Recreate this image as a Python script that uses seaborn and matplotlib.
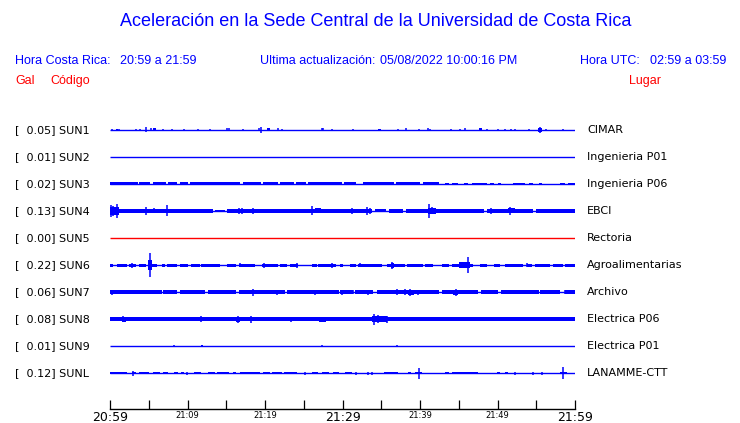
import numpy as np
import pandas as pd
import matplotlib
matplotlib.use('Agg')
import matplotlib.pyplot as plt
import seaborn as sns

sns.set_style('white')
plt.rcParams['font.family'] = ['DejaVu Sans']
plt.rcParams['text.color'] = 'black'
plt.rcParams['xtick.color'] = 'black'

BLUE = '#0000ff'
RED = '#ff0000'
HEAD_FONT = ['Liberation Sans', 'DejaVu Sans']

STATIONS = ['SUN1', 'SUN2', 'SUN3', 'SUN4', 'SUN5', 'SUN6', 'SUN7', 'SUN8', 'SUN9', 'SUNL']
PEAKS = ['0.05', '0.01', '0.02', '0.13', '0.00', '0.22', '0.06', '0.08', '0.01', '0.12']
PLACES = ['CIMAR', 'Ingenieria P01', 'Ingenieria P06', 'EBCI', 'Rectoria',
          'Agroalimentarias', 'Archivo', 'Electrica P06', 'Electrica P01', 'LANAMME-CTT']
TRACE_COLORS = [BLUE, BLUE, BLUE, BLUE, RED, BLUE, BLUE, BLUE, BLUE, BLUE]

TICK_MIN = [0, 10, 20, 30, 40, 50, 60]
TICK_LABELS = ['20:59', '21:09', '21:19', '21:29', '21:39', '21:49', '21:59']
BIG_TICKS = ['20:59', '21:29', '21:59']

# envelope pieces: (start min, end min, half amplitude)
SUN1_BANDS = [(0.8, 1.0, 1.3), (5.5, 5.9, 1.5), (20.2, 20.6, 1.5), (34.6, 35.0, 0.8),
              (47.6, 48.0, 1.5), (55.2, 55.8, 2.0)]
SUN1_SPIKES = [(0.2, 1), (1.2, 1.3), (3.4, 1), (3.9, 1), (4.7, 2.5), (5.25, 1.5), (6.9, 1.3),
               (8.0, 1.3), (9.6, 1), (11.3, 1), (12.95, 1), (15.05, 1.5), (15.3, 1.5), (17.1, 1.3),
               (19.2, 1.5), (19.5, 3), (21.7, 1.5), (22.2, 1.3), (27.3, 1.5), (27.5, 1.5),
               (28.6, 1), (31.3, 1), (37.1, 1.3), (38.2, 1.5), (39.9, 1), (41.0, 1.5), (41.3, 1.3),
               (44.0, 1.3), (45.2, 1.3), (45.85, 1.5), (48.6, 1.3), (50.1, 1), (51.0, 1.3),
               (51.7, 1.3), (52.3, 1.3), (54.0, 1), (55.5, 3.3), (56.3, 1.3), (58.5, 1.3)]

SUN2_BANDS = []
SUN2_SPIKES = []

SUN3_BANDS = [(0.0, 3.6, 1.5), (3.7, 5.2, 1.5), (5.5, 7.2, 1.5), (7.5, 8.7, 1.5), (9.0, 10.0, 1.5),
              (10.3, 16.8, 1.5), (17.1, 19.5, 1.5), (19.7, 21.7, 1.5), (21.9, 23.7, 1.5),
              (24.0, 25.3, 1.5), (25.6, 30.0, 1.5), (30.2, 31.8, 1.5), (32.6, 36.6, 1.5),
              (36.9, 40.0, 1.5), (40.4, 42.4, 1.5), (43.2, 43.7, 1.2), (44.1, 44.9, 1.2),
              (45.7, 46.2, 1.2), (46.7, 48.6, 1.2), (49.0, 49.5, 1.2), (50.1, 50.5, 1.2),
              (52.0, 53.5, 1.2), (54.0, 54.6, 1.2), (55.3, 55.7, 1.2), (58.1, 58.7, 1.2),
              (59.1, 60.0, 1.2)]
SUN3_SPIKES = []

SUN4_BANDS = [(0.0, 13.3, 1.7), (13.6, 14.9, 1.2), (15.1, 33.8, 1.7), (34.2, 35.6, 1.5),
              (36.0, 37.8, 1.7), (38.2, 48.3, 1.7), (48.6, 54.6, 1.6), (55.0, 60.0, 1.6),
              (0.0, 1.2, 4.0), (41.0, 42.0, 3.0), (51.4, 52.2, 2.5), (26.5, 27.2, 2.5)]
SUN4_SPIKES = [(0.1, 6), (0.4, 5), (0.9, 7), (4.7, 4), (5.7, 2.5), (7.4, 5.5), (9.5, 2), (15.3, 2),
               (16.6, 3), (17.0, 3), (18.4, 3), (20.0, 2), (21.7, 2), (23.4, 2), (26.1, 4.5),
               (31.2, 3), (33.1, 4), (33.5, 3), (39.6, 2), (41.1, 7), (41.6, 3.5), (44.5, 2),
               (49.1, 3), (51.6, 4), (53.5, 2), (55.3, 2), (59.4, 2)]

SUN5_BANDS = []
SUN5_SPIKES = []

SUN6_BANDS = [(0.0, 0.4, 1.5), (0.9, 2.2, 1.5), (2.4, 3.4, 1.5), (3.7, 4.7, 1.5), (5.4, 6.0, 1.5),
              (6.7, 7.1, 1.5), (7.4, 8.6, 1.5), (9.0, 10.1, 1.5), (10.5, 11.6, 1.5),
              (11.8, 14.2, 1.5), (15.1, 16.3, 1.5), (16.6, 18.7, 1.5), (19.6, 21.7, 1.5),
              (21.9, 22.8, 1.5), (23.2, 24.3, 1.5), (26.0, 26.7, 1.5), (26.9, 29.2, 1.5),
              (29.7, 30.1, 1.5), (31.0, 31.8, 1.5), (32.0, 35.1, 1.5), (35.7, 38.1, 1.5),
              (38.3, 40.4, 1.5), (40.6, 41.7, 1.5), (42.8, 43.7, 1.5), (44.1, 45.6, 1.5),
              (45.8, 46.9, 1.5), (47.7, 48.6, 1.5), (49.5, 50.3, 1.5), (51.0, 53.3, 1.5),
              (53.8, 54.4, 1.5), (54.8, 56.8, 1.5), (57.2, 58.5, 1.5), (58.7, 60.0, 1.5),
              (4.9, 5.4, 5.0), (45.0, 46.5, 2.8), (36.2, 36.6, 2.5)]
SUN6_SPIKES = [(5.1, 11.7), (2.8, 2.5), (16.8, 2), (19.9, 2.5), (24.1, 2.5), (28.6, 2.5),
               (32.3, 2), (36.4, 3.5), (46.2, 8), (53.8, 2), (0.2, 1.5)]

SUN7_BANDS = [(0.0, 6.7, 1.7), (6.9, 8.6, 1.7), (9.0, 12.3, 1.7), (12.7, 16.3, 1.7),
              (16.6, 22.6, 1.7), (22.8, 29.5, 1.7), (29.7, 31.4, 1.7), (31.6, 34.0, 1.7),
              (34.4, 42.4, 1.7), (42.8, 47.5, 1.7), (47.9, 50.1, 1.7), (50.5, 55.3, 1.7),
              (55.5, 58.1, 1.7), (58.7, 60.0, 1.7), (38.4, 39.2, 2.5), (44.3, 44.9, 2.5)]
SUN7_SPIKES = [(0.2, 2.5), (6.0, 2), (9.3, 2), (18.5, 3.5), (21.6, 2.5), (26.5, 2.5), (29.9, 2.5),
               (31.4, 2), (33.3, 2.5), (37.0, 3), (38.1, 3), (38.7, 3.5), (39.8, 2.5), (43.0, 2),
               (44.6, 3.5), (48.8, 2), (52.0, 2), (54.6, 2), (58.7, 2)]

SUN8_BANDS = [(0.0, 60.0, 1.8), (37.6, 60.0, 2.0), (27.0, 27.9, 2.5), (33.8, 35.8, 2.8),
              (1.5, 2.0, 2.5), (16.3, 16.8, 2.5)]
SUN8_SPIKES = [(1.7, 3), (3.0, 1.5), (5.2, 1.5), (8.4, 1.5), (8.8, 1.5), (11.8, 3), (13.3, 1.5),
               (15.9, 1.5), (16.5, 3.5), (18.2, 3.5), (19.8, 1.5), (23.3, 2.5), (31.6, 1.5),
               (34.1, 5.5), (34.6, 4), (35.7, 3.5), (37.0, 1.5)]

SUN9_BANDS = [(11.7, 11.95, 1.3)]
SUN9_SPIKES = [(8.2, 1), (27.3, 1), (37.0, 1)]

SUNL_BANDS = [(0.0, 2.2, 1.3), (2.8, 3.4, 1.3), (3.7, 5.0, 1.3), (5.6, 6.5, 1.3), (6.9, 7.5, 1.3),
              (8.2, 8.8, 1.3), (9.2, 9.5, 1.3), (10.8, 11.8, 1.3), (12.7, 13.6, 1.3),
              (13.8, 15.3, 1.3), (15.9, 16.3, 1.3), (16.8, 19.4, 1.3), (19.8, 20.7, 1.3),
              (20.9, 22.2, 1.3), (22.4, 24.1, 1.3), (26.0, 26.9, 1.3), (27.3, 28.2, 1.3),
              (28.8, 29.5, 1.3), (30.3, 31.2, 1.3), (35.3, 37.2, 1.3), (38.5, 38.9, 1.3),
              (39.4, 40.2, 1.3), (43.2, 43.7, 1.3), (44.1, 47.5, 1.3), (49.9, 50.3, 1.3),
              (51.0, 51.4, 1.3), (58.1, 59.0, 1.3)]
SUNL_SPIKES = [(3.0, 2.5), (39.9, 5.5), (58.4, 6), (52.3, 1.5), (54.6, 1.5), (55.7, 1.5),
               (31.8, 1.5), (33.3, 1.5), (33.8, 1.5), (9.9, 1.5), (25.2, 1.5)]

ALL_BANDS = [SUN1_BANDS, SUN2_BANDS, SUN3_BANDS, SUN4_BANDS, SUN5_BANDS,
             SUN6_BANDS, SUN7_BANDS, SUN8_BANDS, SUN9_BANDS, SUNL_BANDS]
ALL_SPIKES = [SUN1_SPIKES, SUN2_SPIKES, SUN3_SPIKES, SUN4_SPIKES, SUN5_SPIKES,
              SUN6_SPIKES, SUN7_SPIKES, SUN8_SPIKES, SUN9_SPIKES, SUNL_SPIKES]

W, H = 740, 423
ROW_GAP = 27
ROW0 = 130


def fx(x):
    return x / W


def fy(y):
    return 1 - y / H


fig = plt.figure(figsize=(W / 100, H / 100), dpi=100)

# trace area: x in minutes, y in pixel-like units (one row = 27)
ax = fig.add_axes([fx(110), fy(ROW0 + 9 * ROW_GAP + 13.5), 465 / W, (9 * ROW_GAP + 27) / H])
ax.set_xlim(0, 60)
ax.set_ylim(9 * ROW_GAP + 13.5, -13.5)
ax.axis('off')

for i, st in enumerate(STATIONS):
    off = i * ROW_GAP
    col = TRACE_COLORS[i]
    ax.hlines(off, 0, 60, color=col, lw=1.0)
    bands = pd.DataFrame(ALL_BANDS[i], columns=['t0', 't1', 'hw'])
    if len(bands):
        ax.bar(bands['t0'], 2 * bands['hw'], width=bands['t1'] - bands['t0'],
               bottom=off - bands['hw'], align='edge', color=col, linewidth=0)
    spikes = pd.DataFrame(ALL_SPIKES[i], columns=['t', 'hw'])
    if len(spikes):
        ax.vlines(spikes['t'], off - spikes['hw'], off + spikes['hw'], color=col, lw=1.1)

    y = fy(ROW0 + i * ROW_GAP)
    fig.text(fx(15), y, f'[  {PEAKS[i]}] {st}', fontsize=8, va='center', ha='left')
    fig.text(fx(587), y, PLACES[i], fontsize=8, va='center', ha='left')

# time axis
tax = fig.add_axes([fx(110), fy(409), 465 / W, 0.0001])
tax.set_xlim(0, 60)
tax.set_yticks([])
for s in ['top', 'left', 'right']:
    tax.spines[s].set_visible(False)
tax.spines['bottom'].set_linewidth(1.0)
tax.spines['bottom'].set_color('black')
tax.set_xticks(TICK_MIN)
tax.set_xticks([5, 15, 25, 35, 45, 55], minor=True)
tax.set_xticklabels(TICK_LABELS)
tax.tick_params(axis='x', which='both', direction='in', length=6.5, width=0.9,
                color='black', labelcolor='black', pad=1.5, bottom=True)
for lab in tax.get_xticklabels():
    lab.set_fontsize(9 if lab.get_text() in BIG_TICKS else 6)
    lab.set_va('top')

# header
fig.text(fx(376), fy(22), 'Aceleración en la Sede Central de la Universidad de Costa Rica',
         fontsize=13, color=BLUE, ha='center', va='center', family=HEAD_FONT)
hy = fy(61)
fig.text(fx(15), hy, 'Hora Costa Rica:', fontsize=9, color=BLUE, va='center', family=HEAD_FONT)
fig.text(fx(120), hy, '20:59 a 21:59', fontsize=9, color=BLUE, va='center', family=HEAD_FONT)
fig.text(fx(260), hy, 'Ultima actualización:', fontsize=9, color=BLUE, va='center', family=HEAD_FONT)
fig.text(fx(380), hy, '05/08/2022 10:00:16 PM', fontsize=9, color=BLUE, va='center', family=HEAD_FONT)
fig.text(fx(580), hy, 'Hora UTC:', fontsize=9, color=BLUE, va='center', family=HEAD_FONT)
fig.text(fx(650), hy, '02:59 a 03:59', fontsize=9, color=BLUE, va='center', family=HEAD_FONT)
ry = fy(81)
fig.text(fx(15), ry, 'Gal', fontsize=9, color=RED, va='center', family=HEAD_FONT)
fig.text(fx(50), ry, 'Código', fontsize=9, color=RED, va='center', family=HEAD_FONT)
fig.text(fx(629), ry, 'Lugar', fontsize=9, color=RED, va='center', family=HEAD_FONT)

fig.savefig('out.png', dpi=100)
plt.close(fig)
